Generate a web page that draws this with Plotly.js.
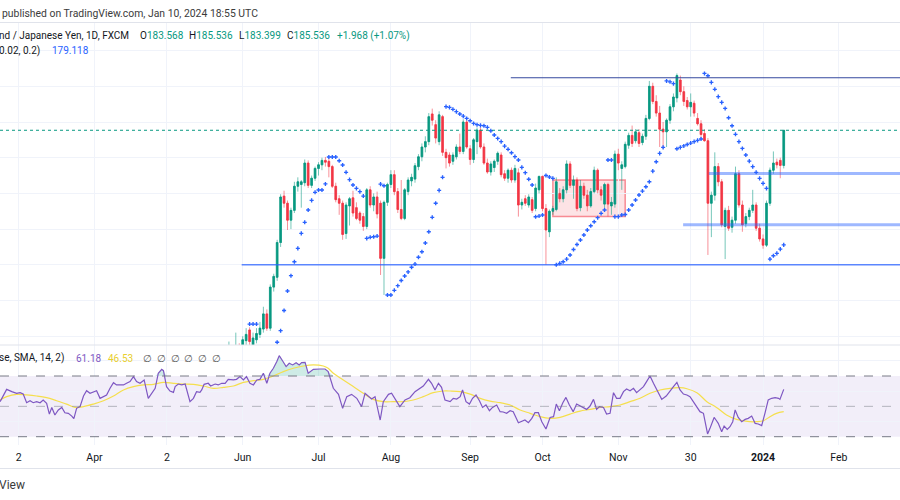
<!DOCTYPE html>
<html><head><meta charset="utf-8">
<script src="https://cdn.plot.ly/plotly-3.0.1.min.js"></script>
<style>html,body{margin:0;padding:0;background:#fff;}#chart{width:900px;height:500px;}</style>
</head><body><div id="chart"></div>
<script>
// ---------- DATA ----------
// bar index: 0 = 1 Jun 2023 (trading days)
const barIndex = [-6,-5,-4,-3,-2,-1,0,1,2,3,4,5,6,7,8,9,10,11,12,13,14,15,16,17,18,19,20,21,22,23,24,25,26,27,28,29,30,31,32,33,34,35,36,37,38,39,40,41,42,43,44,45,46,47,48,49,50,51,52,53,54,55,56,57,58,59,60,61,62,63,64,65,66,67,68,69,70,71,72,73,74,75,76,77,78,79,80,81,82,83,84,85,86,87,88,89,90,91,92,93,94,95,96,97,98,99,100,101,102,103,104,105,106,107,108,109,110,111,112,113,114,115,116,117,118,119,120,121,122,123,124,125,126,127,128,129,130,131,132,133,134,135,136,137,138,139,140,141,142,143,144,145,146,147,148,149,150,151,152,153,154,155,156,157];
const openP = [172.3,172.6,172.9,173.2,172.8,173.4,173.1,173.75,174.35,173.5,173.8,174.1,174.4,175.25,174.45,176.75,177.3,179.25,181.85,181.45,180.5,181.05,182.4,182.5,182.6,183.7,182.45,182.85,183.4,183.6,183.85,183.8,183.5,182.4,181.7,181.45,179.75,181.3,181.75,181.2,180.9,180.7,180.15,182.2,181.35,181.8,181.45,178.36,181.5,182.5,183.05,182.1,181.1,180.6,182.1,182.7,182.8,183.5,184.05,184.6,184.9,186.45,185.85,184.9,186.3,184.3,184.15,183.8,184.05,184.6,184.35,186.0,184.5,183.9,184.9,185.55,184.6,183.7,183.2,183.45,183.8,184.15,183.1,182.85,183.3,182.75,183.15,181.35,181.7,181.35,181.65,181.15,182.2,182.95,181.15,179.85,181.0,181.1,182.0,181.7,182.2,183.65,182.45,182.75,181.2,182.4,181.9,181.3,182.1,183.3,182.2,181.4,182.5,181.3,181.4,184.2,183.4,183.5,184.7,185.25,184.95,185.4,184.85,185.2,186.2,188.0,187.15,186.5,185.6,185.45,186.1,186.85,187.35,188.35,187.7,187.2,186.85,187.05,186.2,185.9,185.35,184.95,181.45,181.9,183.5,182.65,180.15,181.05,180.1,180.5,183.1,181.35,180.3,180.7,181.05,181.35,180.05,179.45,179.1,181.45,183.3,183.75,183.85,183.568];
const highP = [172.9,173.2,173.7,173.4,174.2,173.6,174.0,174.45,174.5,174.2,174.45,174.8,175.65,175.5,176.9,177.5,179.4,181.95,182.15,181.6,181.2,182.65,182.9,182.75,183.9,183.85,183.0,183.5,183.75,184.0,184.04,184.0,183.6,182.6,181.9,181.6,181.5,181.8,182.15,181.5,181.0,180.9,182.3,182.4,182.0,182.1,181.6,181.6,182.6,183.3,183.3,182.3,182.75,182.3,182.9,183.1,183.7,184.2,184.8,185.2,186.5,186.75,186.1,186.6,186.4,184.5,184.3,184.3,184.75,185.35,186.15,186.1,184.7,185.1,185.7,185.7,184.8,183.95,183.8,183.9,184.35,184.3,183.3,183.4,183.45,183.6,183.4,181.7,181.9,181.95,181.8,182.55,183.0,183.0,181.4,181.1,181.3,182.9,182.3,182.4,183.85,183.8,183.0,182.9,182.75,182.6,182.2,182.3,183.5,183.4,182.4,182.6,182.6,181.8,184.4,184.5,183.8,184.9,185.4,185.8,185.6,185.6,185.35,186.4,188.3,188.2,187.5,186.9,186.0,186.2,187.0,187.6,188.72,188.6,188.0,187.4,187.6,187.2,186.5,186.1,185.6,185.1,182.1,184.3,183.7,182.8,181.2,181.3,180.7,183.5,183.3,181.6,180.9,181.2,182.2,181.5,180.3,179.7,181.6,183.45,184.35,183.95,184.0,185.536];
const lowP = [171.9,172.2,172.6,172.5,172.6,172.8,172.9,173.5,173.3,173.2,173.6,173.9,174.2,174.3,174.3,176.5,177.1,179.0,181.2,179.95,180.0,180.9,182.1,181.2,182.4,182.3,182.3,182.7,183.0,183.3,183.5,182.9,182.3,181.5,180.8,179.4,179.45,180.2,180.7,180.5,180.3,179.9,180.0,181.2,181.0,180.6,177.43,176.31,181.3,182.3,181.9,180.9,180.5,180.5,181.9,182.4,182.6,183.3,183.8,184.3,184.7,185.8,184.8,184.7,184.1,183.4,183.5,183.6,183.9,184.2,184.2,184.5,183.6,183.7,184.2,184.5,183.6,183.1,183.0,183.2,183.6,182.9,182.7,182.6,182.6,182.6,180.7,181.1,181.3,181.2,180.9,181.0,182.0,181.0,178.0,179.55,180.8,181.0,181.5,181.5,182.0,182.3,181.7,181.0,181.0,181.7,181.0,181.2,182.0,182.0,181.6,181.1,180.7,180.8,181.2,183.3,182.2,183.4,184.5,184.6,184.8,184.6,184.7,185.0,186.1,187.0,186.3,184.6,184.5,184.6,185.9,186.6,187.1,187.5,186.9,186.7,186.3,186.3,185.8,185.1,184.9,178.55,179.55,181.6,182.4,180.1,178.32,179.9,179.8,180.3,181.2,179.85,180.1,180.5,180.9,179.9,179.3,178.9,179.0,181.3,183.1,183.4,182.85,183.399];
const closeP = [172.6,172.9,173.2,172.8,173.4,173.1,173.8,174.1,173.7,173.9,174.15,174.45,175.25,174.45,176.75,177.35,179.25,181.8,181.45,180.5,181.05,182.4,182.65,182.65,183.7,182.45,182.85,183.4,183.6,183.85,183.75,183.5,182.4,181.65,181.45,179.7,181.35,181.7,180.9,180.6,180.5,180.15,182.2,181.35,181.8,180.85,178.36,181.5,182.5,183.05,182.1,181.1,180.6,182.2,182.75,182.9,183.55,184.05,184.6,184.9,186.3,186.1,185.1,186.4,184.3,184.0,183.7,184.15,184.6,184.35,186.0,184.6,183.9,185.0,185.55,184.6,183.7,183.2,183.65,183.8,184.25,183.05,182.85,183.3,182.75,183.4,181.35,181.5,181.45,181.8,181.05,182.3,182.95,181.15,179.95,181.0,181.15,182.65,181.7,182.2,183.65,182.45,182.75,181.15,182.4,181.9,181.3,182.1,183.3,182.2,181.9,182.5,181.4,181.5,184.2,183.7,183.6,184.75,185.25,184.8,185.45,184.8,185.2,186.2,188.0,187.15,186.5,185.6,185.45,186.1,186.85,187.4,188.6,187.7,187.15,186.85,187.1,186.5,185.9,185.3,184.95,181.45,181.9,183.5,182.65,180.25,181.05,180.05,180.5,183.1,181.35,180.25,180.7,181.05,181.35,180.05,179.45,179.1,181.45,183.3,183.7,183.6,183.568,185.536];

// Parabolic SAR (0.02, 0.02, 0.2)
const psarX = [2,3,4,10,11,12,13,14,15,16,17,18,19,20,21,22,23,24,25,26,27,28,29,30,31,32,33,34,35,36,37,38,39,40,41,42,43,44,45,46,47,48,49,50,51,52,53,54,55,56,57,58,59,60,61,62,63,64,65,66,67,68,69,70,71,72,73,74,75,76,77,78,79,80,81,82,83,84,85,86,87,88,89,90,91,92,93,94,95,96,97,98,99,100,101,102,103,104,105,106,107,108,109,110,111,112,113,114,115,116,117,118,119,120,121,122,123,124,125,126,127,128,129,130,131,132,133,134,135,136,137,138,139,140,141,142,143,144,145,146,147,148,149,150,151,152,153,154,155,156,157];
const psarV = [174.68,174.68,174.68,173.66,174.31,175.44,176.53,177.39,178.17,178.92,179.76,180.38,181.07,181.61,182.06,182.19,182.19,182.53,184.04,184.04,184.04,183.83,183.59,183.18,182.77,182.47,182.28,182.10,181.85,179.48,179.54,179.57,179.61,182.52,182.43,176.31,176.31,176.57,176.83,177.12,177.37,177.60,177.86,178.04,178.42,178.73,179.22,179.85,180.66,181.45,182.17,182.90,186.86,186.82,186.71,186.58,186.45,186.33,186.20,186.07,185.92,185.85,185.81,185.79,185.70,185.51,185.27,185.08,184.90,184.65,184.47,184.28,184.06,183.87,183.46,183.16,182.79,182.47,180.69,180.73,180.79,183.00,182.92,182.84,178.00,178.08,178.17,178.32,178.55,178.86,179.14,179.39,179.67,179.95,180.19,180.41,180.64,180.88,181.07,183.87,183.87,180.70,180.70,180.79,180.82,181.07,181.35,181.63,181.91,182.13,182.37,182.65,183.25,183.77,184.24,184.58,188.30,188.25,188.15,184.50,184.58,184.66,184.74,184.82,184.90,184.97,185.05,188.72,188.59,188.22,187.83,187.42,187.10,186.76,186.24,185.79,185.31,184.90,184.52,184.15,183.81,183.50,183.18,182.84,182.56,182.28,178.32,178.51,178.64,178.88,179.118];

// RSI (14) vertices and its SMA(14)
const rsiX = [-70.4,-68.5,-67.0,-65.6,-64.6,-63.7,-62.7,-61.7,-60.8,-59.8,-58.8,-57.9,-56.9,-56.1,-55.4,-54.5,-53.5,-52.5,-51.6,-50.6,-49.6,-49.0,-48.2,-47.2,-46.2,-45.3,-44.3,-43.3,-42.4,-41.4,-40.4,-39.5,-38.5,-37.5,-36.6,-35.6,-34.6,-33.7,-32.7,-31.7,-30.8,-29.8,-28.6,-27.4,-26.4,-25.4,-24.5,-23.5,-23.0,-22.1,-21.1,-20.1,-19.6,-18.7,-17.7,-16.7,-15.3,-14.3,-13.4,-12.4,-11.9,-11.2,-10.0,-9.3,-8.0,-7.1,-6.1,-5.1,-4.2,-2.7,-1.8,-0.8,0.2,1.1,2.1,3.1,4.1,5.0,6.0,7.0,7.9,8.9,9.9,10.6,11.6,12.6,13.5,14.5,15.5,16.4,17.1,18.1,19.0,20.5,22.4,23.9,24.8,26.3,27.8,29.0,30.2,31.6,33.1,34.5,35.5,36.5,37.4,38.4,39.9,40.8,42.3,43.2,44.7,45.6,47.1,48.5,50.0,51.4,52.4,53.9,54.8,55.8,56.8,57.7,58.7,60.2,61.1,62.1,63.1,63.8,64.8,65.8,66.7,67.7,68.7,69.6,70.6,71.6,72.5,73.7,74.7,75.6,76.6,77.6,78.5,80.0,81.0,81.9,82.9,83.9,84.8,85.8,86.8,88.0,89.2,90.2,91.0,91.9,92.9,93.8,94.8,95.9,96.9,97.9,98.9,99.8,100.8,101.8,102.7,103.5,104.7,105.6,106.6,107.6,108.5,109.5,110.5,111.4,112.4,113.4,114.3,115.3,116.3,117.2,118.2,119.2,120.2,121.6,122.9,124.0,125.0,126.0,126.9,127.9,128.9,129.8,130.8,131.8,132.7,133.7,134.9,135.6,136.8,137.5,138.0,139.0,139.7,140.6,141.4,142.2,142.9,143.8,144.8,145.8,146.7,147.7,148.7,149.6,150.6,151.6,152.5,153.5,154.5,155.5,155.9,157];
const rsiV = [53.1,61.2,59.7,58.6,59.0,58.1,52.4,53.7,52.4,53.1,52.4,54.2,52.0,44.9,49.3,44.3,47.6,49.3,45.8,45.4,43.6,41.9,48.7,49.8,56.8,60.3,58.6,59.7,60.3,55.3,56.4,57.5,61.9,65.6,64.1,64.1,64.1,65.2,66.3,69.6,66.3,65.2,67.4,55.3,58.6,61.9,71.8,74.4,73.5,63.0,60.1,59.2,63.0,64.7,64.1,64.7,53.1,55.3,59.7,59.2,60.8,64.5,65.2,63.4,64.7,64.1,65.2,65.2,67.8,67.4,67.8,69.6,67.4,69.6,65.2,64.1,67.4,67.8,71.8,65.2,71.8,75.1,79.5,83.4,79.9,76.2,78.4,77.3,78.8,77.3,78.8,79.0,71.8,74.4,74.6,74.6,72.9,61.9,57.9,48.7,56.4,57.9,55.3,49.8,58.6,56.4,54.8,56.4,41.0,53.1,57.9,58.6,52.6,49.8,54.2,55.7,59.7,61.9,63.4,67.8,65.2,60.8,65.2,62.5,54.2,53.1,55.3,54.8,56.4,60.8,53.1,51.5,55.3,57.5,53.7,49.3,50.9,47.1,49.3,50.9,46.5,46.3,45.4,47.1,46.5,39.2,39.9,41.0,39.2,42.1,45.8,45.8,39.9,35.1,42.7,43.2,51.5,47.1,52.4,55.9,50.9,46.5,51.5,50.2,48.7,48.0,50.2,54.6,48.0,49.8,49.3,44.9,45.4,59.0,55.3,55.3,59.7,61.4,60.3,61.9,59.0,60.8,63.0,66.3,70.0,65.2,60.8,54.6,56.8,59.7,63.0,65.8,60.8,58.1,57.5,56.4,53.1,49.8,46.5,45.4,31.8,35.5,42.7,40.5,38.8,33.3,37.0,34.8,36.6,39.9,47.6,42.7,39.9,41.4,42.1,43.6,38.8,38.4,37.3,45.8,54.2,55.3,55.7,55.3,54.6,61.18];
const maX = [-70.4,-68.5,-65.6,-62.7,-59.8,-56.9,-54.0,-51.1,-48.7,-46.2,-43.3,-40.4,-37.5,-34.6,-31.7,-28.8,-25.9,-23.0,-20.1,-17.2,-14.3,-11.4,-8.5,-5.6,-2.7,0.2,3.1,6.0,8.9,11.8,14.7,17.6,20.5,23.4,24.8,26.3,29.2,32.1,35.0,37.9,40.8,43.7,46.6,49.5,52.4,55.3,58.2,60.2,63.1,66.0,68.9,71.8,74.7,77.6,80.5,83.4,86.3,89.2,92.1,95.0,97.9,100.8,103.7,106.6,109.5,112.4,115.3,118.2,121.1,124.0,126.9,128.9,131.8,134.7,137.5,140.4,143.3,145.3,147.2,149.1,151.1,153.0,154.9,157];
const maV = [54.2,56.4,57.9,57.5,56.8,55.7,53.7,51.5,49.3,49.8,51.5,53.7,56.8,60.8,63.0,64.1,64.5,65.8,65.2,64.7,64.5,63.4,61.9,62.5,63.4,65.8,66.9,67.8,70.0,72.9,75.1,76.6,77.3,76.6,75.1,71.8,67.4,63.0,58.6,54.6,53.1,53.1,53.1,54.2,56.4,59.0,60.1,60.1,59.7,58.1,55.3,53.5,52.4,50.9,47.6,45.4,43.2,42.1,42.7,44.9,46.9,48.0,49.3,49.8,50.9,53.1,55.3,58.6,60.8,61.9,62.3,61.6,59.0,53.1,49.3,44.3,41.4,40.5,39.9,39.9,40.5,43.2,45.4,46.53];

// time axis ticks
const tickIdx = [-65,-43,-22,0,22,43,66,87,109,130,151,173];
const tickText = ['2','Apr','2','Jun','Jul','Aug','Sep','Oct','Nov','30','<b>2024</b>','Feb'];

// drawn levels
const resistanceTop = 188.48;
const levelA = 183.12, levelB = 180.25, support = 178.0;
const lastPrice = 185.536;
const rangeBox = {x0:90, x1:111, y0:180.70, y1:182.75};

// ---------- CHART ----------
const FONT = 'Roboto, "Liberation Sans", Arial, sans-serif';
const W = 900, H = 500;
const px = v => v / W, py = v => 1 - v / H;
const xL = -70.43, xR = 190.74;

const bodyHi = openP.map((o, k) => Math.max(o, closeP[k]));
const bodyLo = openP.map((o, k) => Math.min(o, closeP[k]));

const traces = [
  {type:'candlestick', x:barIndex, open:openP, high:highP, low:lowP, close:closeP, xaxis:'x', yaxis:'y',
   increasing:{line:{color:'rgba(8,153,129,0.55)', width:1}, fillcolor:'rgba(8,153,129,0.55)'},
   decreasing:{line:{color:'rgba(242,54,69,0.55)', width:1}, fillcolor:'rgba(242,54,69,0.55)'},
   whiskerwidth:0, hoverinfo:'skip', showlegend:false},
  {type:'candlestick', x:barIndex, open:openP, high:bodyHi, low:bodyLo, close:closeP, xaxis:'x', yaxis:'y',
   increasing:{line:{color:'#089981', width:0.5}, fillcolor:'#089981'},
   decreasing:{line:{color:'#f23645', width:0.5}, fillcolor:'#f23645'},
   whiskerwidth:0, hoverinfo:'skip', showlegend:false},
  {type:'scatter', mode:'markers', x:psarX, y:psarV, xaxis:'x', yaxis:'y',
   marker:{symbol:'cross', size:3.4, color:'#2962ff', line:{width:0}}, hoverinfo:'skip', showlegend:false},
  {type:'scatter', mode:'lines', x:rsiX, y:rsiX.map(() => 70), xaxis:'x', yaxis:'y2', line:{width:0}, hoverinfo:'skip', showlegend:false},
  {type:'scatter', mode:'lines', x:rsiX, y:rsiV.map(v => Math.max(v, 70)), xaxis:'x', yaxis:'y2', line:{width:0},
   fill:'tonexty', fillcolor:'rgba(8,153,129,0.2)', hoverinfo:'skip', showlegend:false},
  {type:'scatter', mode:'lines', x:maX, y:maV, xaxis:'x', yaxis:'y2', line:{color:'#f5df4d', width:1.2, shape:'spline'}, hoverinfo:'skip', showlegend:false},
  {type:'scatter', mode:'lines', x:rsiX, y:rsiV, xaxis:'x', yaxis:'y2', line:{color:'#7e57c2', width:1.2}, hoverinfo:'skip', showlegend:false}
];

const hl = (y, x0, color, width, dash) => ({type:'line', xref:'x', yref:'y', x0:x0, x1:xR, y0:y, y1:y, line:{color:color, width:width, dash:dash || 'solid'}});
const pl = (ypx, color) => ({type:'line', xref:'paper', yref:'paper', x0:0, x1:1, y0:py(ypx), y1:py(ypx), line:{color:color, width:1}});

const shapes = [
  {type:'rect', xref:'x', yref:'y2', x0:xL, x1:xR, y0:30, y1:70, fillcolor:'rgba(126,87,194,0.1)', line:{width:0}, layer:'below'},
  {type:'line', xref:'x', yref:'y2', x0:xL, x1:xR, y0:70, y1:70, line:{color:'#787b86', width:1, dash:'dash'}},
  {type:'line', xref:'x', yref:'y2', x0:xL, x1:xR, y0:50, y1:50, line:{color:'rgba(120,123,134,0.5)', width:1, dash:'dash'}},
  {type:'line', xref:'x', yref:'y2', x0:xL, x1:xR, y0:30, y1:30, line:{color:'#787b86', width:1, dash:'dash'}},
  {type:'rect', xref:'x', yref:'y', x0:rangeBox.x0, x1:rangeBox.x1, y0:rangeBox.y0, y1:rangeBox.y1,
   fillcolor:'rgba(242,54,69,0.14)', line:{color:'rgba(242,54,69,0.55)', width:1.5}, layer:'below'},
  hl(lastPrice, xL, '#089981', 1, 'dot'),
  hl(resistanceTop, 77.8, '#34489e', 1.2),
  hl(levelA, 135.3, 'rgba(41,98,255,0.45)', 3),
  hl(levelB, 127.8, 'rgba(41,98,255,0.45)', 3),
  hl(support, -0.3, 'rgba(41,98,255,0.75)', 1.6),
  pl(22.5, '#e0e3eb'), pl(345, '#e0e3eb'), pl(468.5, '#e0e3eb')
];

const ann = (x, y, text, size, color) => ({xref:'paper', yref:'paper', x:px(x), y:py(y), xanchor:'left', yanchor:'middle',
  text:text, showarrow:false, font:{family:FONT, size:size, color:color}, borderpad:0});
const G = '#089981';
const annotations = [
  ann(1, 13, 'published on TradingView.com, Jan 10, 2024 18:55 UTC', 10.4, '#3b3b3b'),
  ann(-2, 36, 'nd / Japanese Yen, 1D, FXCM', 10, '#131722'),
  ann(139, 36, 'O<span style="color:' + G + '">183.568</span>', 10, '#131722'),
  ann(188, 36, 'H<span style="color:' + G + '">185.536</span>', 10, '#131722'),
  ann(238, 36, 'L<span style="color:' + G + '">183.399</span>', 10, '#131722'),
  ann(286, 36, 'C<span style="color:' + G + '">185.536</span>', 10, '#131722'),
  ann(336, 36, '+1.968 (+1.07%)', 10, G),
  ann(-2, 51, '0.02, 0.2)', 10, '#131722'),
  ann(51, 51, '179.118', 10, '#2962ff'),
  ann(-2, 358, 'se, SMA, 14, 2)', 10, '#131722'),
  ann(75, 358, '61.18', 10, '#7e57c2'),
  ann(107, 358, '46.53', 10, '#e8cf2e'),
  ann(-2, 485, 'View', 12, '#3b3b3b')
];
for (let k = 0; k < 6; k++) annotations.push(ann(142 + k * 13.8, 358, '∅', 10, '#555'));

const layout = {
  width:W, height:H, margin:{l:0, r:0, t:0, b:0}, paper_bgcolor:'#ffffff', plot_bgcolor:'#ffffff', showlegend:false,
  xaxis:{domain:[0,1], anchor:'y2', range:[xL, xR], tickmode:'array', tickvals:tickIdx, ticktext:tickText,
    showgrid:true, gridcolor:'#f0f3fa', gridwidth:1, zeroline:false, ticks:'', showline:false,
    tickfont:{family:FONT, size:10.5, color:'#131722'}, rangeslider:{visible:false}, fixedrange:true, ticklabelstandoff:4},
  yaxis:{domain:[py(345), py(22.5)], range:[173.507, 191.574], tick0:0, dtick:2, showticklabels:false,
    showgrid:true, gridcolor:'#f0f3fa', zeroline:false, showline:false, ticks:'', fixedrange:true},
  yaxis2:{domain:[py(445), py(345)], range:[24.53, 90.43], tickmode:'array', tickvals:[40,60,80], showticklabels:false,
    showgrid:true, gridcolor:'#f0f3fa', zeroline:false, showline:false, ticks:'', fixedrange:true},
  shapes:shapes, annotations:annotations, hovermode:false
};

Plotly.newPlot('chart', traces, layout, {displayModeBar:false, staticPlot:true});
</script>
</body></html>
